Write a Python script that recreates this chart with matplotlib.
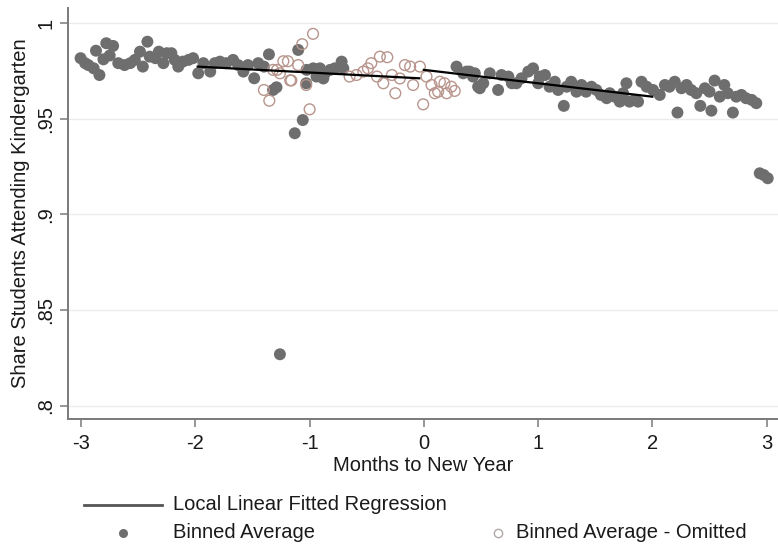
import matplotlib
matplotlib.use("Agg")
import matplotlib.pyplot as plt
from matplotlib.lines import Line2D

plt.rcParams['font.family'] = ['Liberation Sans', 'DejaVu Sans']

# ---------------- data ----------------
filled_x = [-3.005, -2.965, -2.937, -2.89, -2.87, -2.84, -2.805, -2.78, -2.75, -2.72,
            -2.675, -2.62, -2.57, -2.53, -2.485, -2.46, -2.42, -2.40, -2.35, -2.32,
            -2.28, -2.25, -2.21, -2.18, -2.15, -2.11, -2.06, -2.02, -1.975, -1.93,
            -1.87, -1.83, -1.785, -1.73, -1.67, -1.625, -1.58, -1.54, -1.485, -1.45,
            -1.40, -1.356, -1.32, -1.29, -1.26, -1.13, -1.10, -1.06, -1.03, -1.026,
            -0.968, -0.94, -0.91, -0.88, -0.866, -0.82, -0.78, -0.72, -0.705,
            0.286, 0.344, 0.374, 0.40, 0.43, 0.446, 0.475, 0.49, 0.52, 0.577,
            0.65, 0.68, 0.74, 0.77, 0.81, 0.855, 0.914, 0.956, 1.0, 1.015,
            1.06, 1.10, 1.146, 1.175, 1.225, 1.25, 1.29, 1.336, 1.38, 1.42,
            1.467, 1.51, 1.55, 1.60, 1.627, 1.67, 1.715, 1.744, 1.773, 1.80,
            1.846, 1.875, 1.905, 1.95, 2.006, 2.065, 2.11, 2.15, 2.196, 2.22,
            2.255, 2.30, 2.34, 2.385, 2.42, 2.46, 2.50, 2.517, 2.545, 2.59,
            2.63, 2.66, 2.705, 2.735, 2.78, 2.82, 2.87, 2.91, 2.94, 2.975, 3.01]
filled_y = [.9816, .979, .978, .9763, .9855, .9728, .981, .9894, .983, .988,
            .979, .978, .979, .9807, .985, .9772, .9902, .9824, .9816, .985,
            .979, .9842, .9842, .9807, .9772, .9798, .9807, .9816, .9737, .979,
            .9746, .979, .9798, .979, .9807, .978, .9746, .978, .9711, .979,
            .9772, .9836, .965, .9664, .827, .9424, .9859, .9493, .9685, .9755,
            .9763, .972, .9763, .971, .9737, .9755, .9763, .9798, .9763,
            .9772, .9737, .9746, .9746, .972, .9737, .9667, .9659, .9685, .9737,
            .965, .9728, .972, .9685, .9685, .9711, .9746, .9763, .9685, .972,
            .9728, .9667, .9693, .965, .9567, .9667, .9693, .9641, .9676, .9641,
            .9667, .965, .9624, .9607, .9633, .9615, .9589, .9633, .9685, .9589,
            .9598, .9589, .9693, .9667, .965, .9624, .9676, .9667, .9693, .9532,
            .9659, .9676, .965, .9633, .9567, .9659, .9641, .9542, .9699, .9615,
            .9676, .9633, .9532, .9615, .9624, .9607, .9598, .9581, .9215, .9206, .9189]

omitted_x = [-1.40, -1.353, -1.32, -1.285, -1.26, -1.23, -1.19, -1.17, -1.16, -1.10,
             -1.065, -1.03, -1.0, -0.97, -0.65, -0.59, -0.53, -0.49, -0.46, -0.41,
             -0.385, -0.355, -0.32, -0.28, -0.25, -0.21, -0.166, -0.12, -0.094, -0.035,
             -0.006, 0.023, 0.067, 0.096, 0.125, 0.14, 0.18, 0.2, 0.24, 0.27]
omitted_y = [.965, .9594, .9755, .9755, .9737, .980, .980, .970, .970, .978,
             .9889, .9676, .9549, .9943, .972, .9728, .9746, .9763, .979, .972,
             .9824, .9685, .9821, .9728, .9633, .971, .978, .9772, .9676, .9772,
             .9575, .972, .9676, .9633, .9641, .9693, .9685, .9633, .9667, .9645]

fit_left_x = [-1.98, -0.04]
fit_left_y = [.9772, .9711]
fit_right_x = [0.0, 2.0]
fit_right_y = [.9755, .9615]

xticks = [-3, -2, -1, 0, 1, 2, 3]
xtick_labels = ['-3', '-2', '-1', '0', '1', '2', '3']
yticks = [.8, .85, .9, .95, 1.0]
ytick_labels = ['.8', '.85', '.9', '.95', '1']

legend_labels = ['Local Linear Fitted Regression', 'Binned Average', 'Binned Average - Omitted']

# ---------------- styling ----------------
W, H = 778, 550
fig = plt.figure(figsize=(W / 100, H / 100), dpi=100)
ax = fig.add_axes([68 / W, 1 - 419 / H, (W - 68) / W, (419 - 8) / H])

filled_color = '#6e6e6e'
omit_color = '#b8958d'
spine_color = '#7a7a7a'
text_color = '#1a1a1a'

ax.scatter(filled_x, filled_y, s=74, color=filled_color, edgecolors='none', zorder=3)
ax.scatter(omitted_x, omitted_y, s=60, facecolors='none', edgecolors=omit_color,
           linewidths=1.0, zorder=3)
ax.plot(fit_left_x, fit_left_y, color='black', lw=1.6, zorder=4)
ax.plot(fit_right_x, fit_right_y, color='black', lw=1.6, zorder=4)

ax.set_xlim(-3.115, 3.1)
ax.set_ylim(0.7932, 1.0078)

ax.set_xticks(xticks)
ax.set_xticklabels(xtick_labels)
ax.set_yticks(yticks)
ax.set_yticklabels(ytick_labels, rotation=90, va='center')

ax.grid(axis='y', color='#ececec', lw=1.0, zorder=0)
ax.set_axisbelow(True)

for s in ['top', 'right']:
    ax.spines[s].set_visible(False)
for s in ['left', 'bottom']:
    ax.spines[s].set_color(spine_color)
    ax.spines[s].set_linewidth(1.4)

ax.tick_params(axis='both', colors=spine_color, length=6, width=1.1,
               labelcolor=text_color, labelsize=14.5)
ax.tick_params(axis='x', pad=5)
ax.tick_params(axis='y', pad=3)

ax.set_xlabel('Months to New Year', fontsize=14.5, color=text_color, labelpad=2)
ax.set_ylabel('Share Students Attending Kindergarten', fontsize=14.5, color=text_color,
              labelpad=5)

# ---------------- legend (manual layout, pixel coords) ----------------
lax = fig.add_axes([0, 0, 1, 1])
lax.set_xlim(0, W)
lax.set_ylim(H, 0)
lax.axis('off')
lax.add_line(Line2D([84, 162], [505, 505], color='#555555', lw=2.0))
lax.text(173, 505, legend_labels[0], fontsize=14.5, color=text_color, va='center', ha='left')
lax.plot([123], [533], 'o', color=filled_color, ms=6.5, mec='none')
lax.text(173, 533, legend_labels[1], fontsize=14.5, color=text_color, va='center', ha='left')
lax.plot([498], [533], 'o', mfc='none', mec='#b0a8a6', ms=6.0, mew=1.0)
lax.text(516, 533, legend_labels[2], fontsize=14.5, color=text_color, va='center', ha='left')

fig.savefig('out.png', dpi=100)
